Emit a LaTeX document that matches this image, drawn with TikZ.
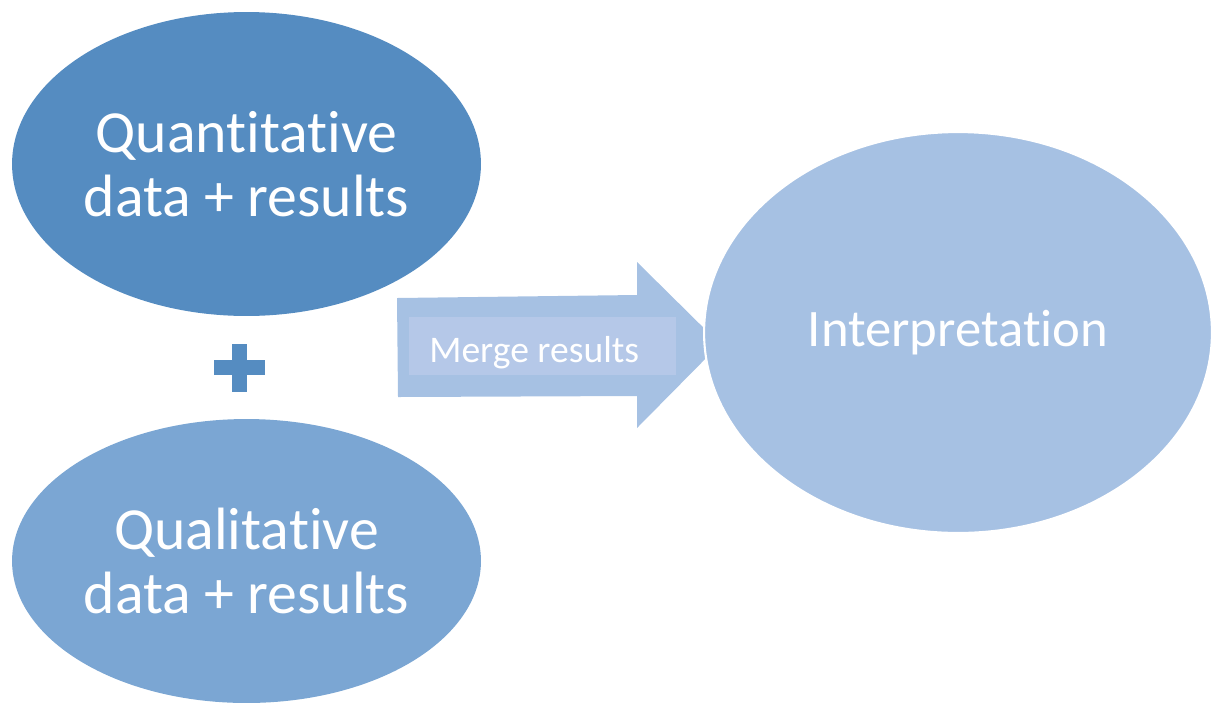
\documentclass[tikz,border=0pt]{standalone}
\usepackage{fontspec}
\setmainfont{Carlito}[Ligatures=NoCommon]
\usetikzlibrary{shapes.geometric,positioning}

\definecolor{quantblue}{HTML}{558CC1}
\definecolor{qualblue}{HTML}{7BA6D3}
\definecolor{interpblue}{HTML}{A6C1E3}
\definecolor{mergefill}{HTML}{B5C8E8}

\begin{document}
\begin{tikzpicture}[x=0.02cm, y=-0.02cm, every node/.style={align=center, text=white},
  blob/.style={ellipse, inner sep=0pt, font=\fontsize{34}{36.3}\selectfont}]
\useasboundingbox (0,0) rectangle (1212,704);

\node (quant) [blob, fill=quantblue, minimum width=9.38cm, minimum height=6.08cm] at (246.5,164) {Quantitative\\data + results};
\node (qual) [blob, fill=qualblue, minimum width=9.38cm, minimum height=5.68cm] at (246.5,561) {Qualitative\\data + results};

% plus sign between the two data sets
\fill[quantblue] (214,360) rectangle (265,375);
\fill[quantblue] (232,344) rectangle (247,392);

% block arrow
\fill[interpblue] (397,298) -- (637,295) -- (637,262) -- (720,344) -- (637,428) -- (637,396) -- (398,397) -- cycle;
\node (mergebox) [fill=mergefill, minimum width=5.34cm, minimum height=1.16cm, inner sep=0pt, anchor=north west] at (409,317) {};
\node (mergetext) [anchor=base west, inner sep=0pt, font=\fontsize{21.4}{24}\selectfont] at (429,362) {Merge results};

\node (interp) [ellipse, inner sep=0pt, fill=interpblue, draw=white, line width=1.2pt, minimum width=10.16cm, minimum height=8.02cm, font=\fontsize{30}{36}\selectfont] at (958,332.5) {Interpretation};
\end{tikzpicture}
\end{document}
